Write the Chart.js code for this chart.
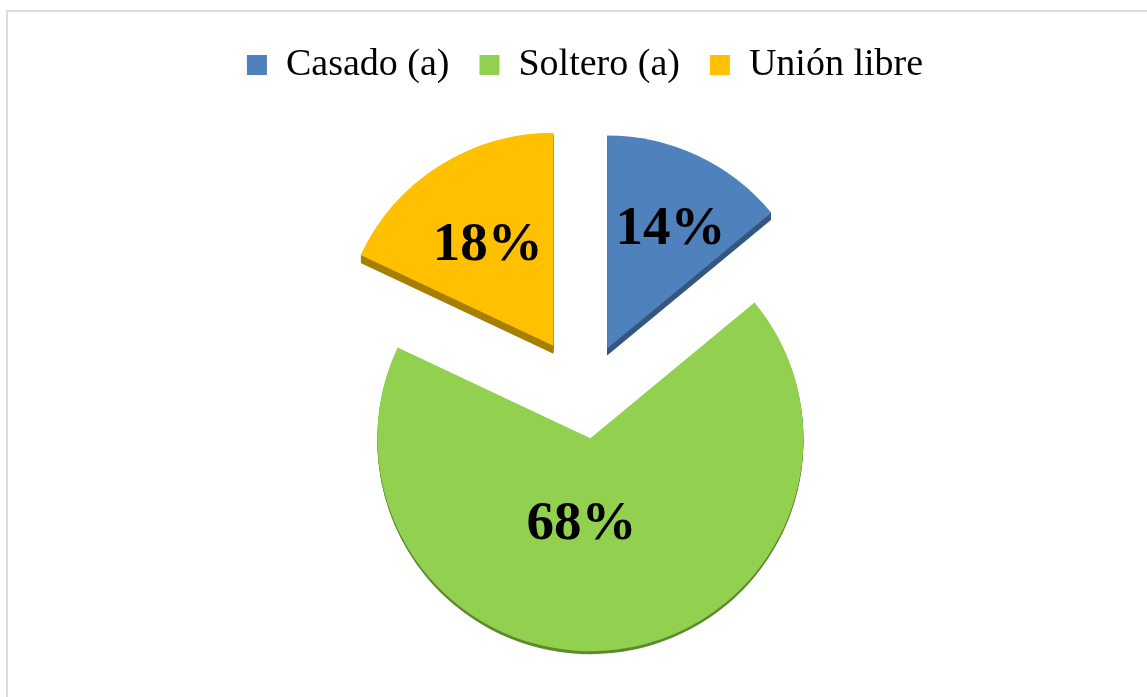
<!DOCTYPE html>
<html>
<head>
<meta charset="utf-8">
<script src="https://cdn.jsdelivr.net/npm/chart.js@4.4.0/dist/chart.umd.min.js"></script>
<style>
  html, body { margin: 0; padding: 0; background: #fff; }
  #marco { position: absolute; left: 6px; top: 10px; width: 1200px; height: 720px;
           border-top: 2px solid #dcdcdc; border-left: 2px solid #dcdcdc; }
  #contenedor { position: absolute; left: 0; top: 0; width: 1147px; height: 697px; }
</style>
</head>
<body>
<div id="marco"></div>
<div id="contenedor"><canvas id="graficoEstadoCivil"></canvas></div>
<script>
//---------------
// Datos
//---------------
const categorias = ['Casado (a)', 'Soltero (a)', 'Unión libre'];
const porcentajes = [14, 68, 18];

const colores = ['#4F81BD', '#92D050', '#FFC000'];
const coloresBorde = ['#34577F', '#5E8A2C', '#A87F00'];   // cara lateral "3D"
const profundidad = [7, 3, 8];                             // grosor de la cara lateral
const explosion = [52, 43, 59];                            // separacion de cada sector (px)
const radioEtiqueta = [0.63, 0.41, 0.56];                  // distancia del texto al vertice (fraccion del radio)
const giroEtiqueta = [3, 13, -1];                          // ajuste del angulo del texto (grados)

//---------------
// Plugin: sectores separados, cara lateral y etiquetas
//---------------
const pluginPastel3D = {
  id: 'pastel3D',
  afterDatasetUpdate(chart, args) {
    if (args.index !== 0) return;
    chart.getDatasetMeta(0).data.forEach((arc, i) => {
      const mitad = (arc.startAngle + arc.endAngle) / 2;
      arc.x += Math.cos(mitad) * explosion[i];
      arc.y += Math.sin(mitad) * explosion[i];
    });
  },
  beforeDatasetsDraw(chart) {
    const ctx = chart.ctx;
    chart.getDatasetMeta(0).data.forEach((arc, i) => {
      ctx.save();
      ctx.fillStyle = coloresBorde[i];
      for (let k = profundidad[i]; k > 0; k--) {
        ctx.beginPath();
        ctx.moveTo(arc.x, arc.y + k);
        ctx.arc(arc.x, arc.y + k, arc.outerRadius, arc.startAngle, arc.endAngle);
        ctx.closePath();
        ctx.fill();
      }
      ctx.restore();
    });
  },
  afterDatasetsDraw(chart) {
    const ctx = chart.ctx;
    ctx.save();
    ctx.font = 'bold 55px "Liberation Serif", "Times New Roman", serif';
    ctx.fillStyle = '#000';
    ctx.textAlign = 'center';
    ctx.textBaseline = 'middle';
    chart.getDatasetMeta(0).data.forEach((arc, i) => {
      const ang = (arc.startAngle + arc.endAngle) / 2 + giroEtiqueta[i] * Math.PI / 180;
      const r = arc.outerRadius * radioEtiqueta[i];
      ctx.fillText(porcentajes[i] + '%', arc.x + Math.cos(ang) * r, arc.y + Math.sin(ang) * r);
    });
    ctx.restore();
  }
};

//---------------
// Grafico
//---------------
const grafico = new Chart(document.getElementById('graficoEstadoCivil'), {
  type: 'pie',
  data: {
    labels: categorias,
    datasets: [{
      data: porcentajes,
      backgroundColor: colores,
      borderWidth: 0,
      radius: 213
    }]
  },
  options: {
    responsive: true,
    maintainAspectRatio: false,
    animation: false,
    layout: { padding: { left: 23, right: 0, top: 16, bottom: 0 } },
    plugins: {
      legend: {
        position: 'top',
        labels: {
          color: '#000',
          boxWidth: 20,
          boxHeight: 20,
          padding: 30,
          font: { family: '"Liberation Serif", "Times New Roman", serif', size: 38 }
        }
      },
      tooltip: { enabled: false }
    }
  },
  plugins: [pluginPastel3D]
});
</script>
</body>
</html>
